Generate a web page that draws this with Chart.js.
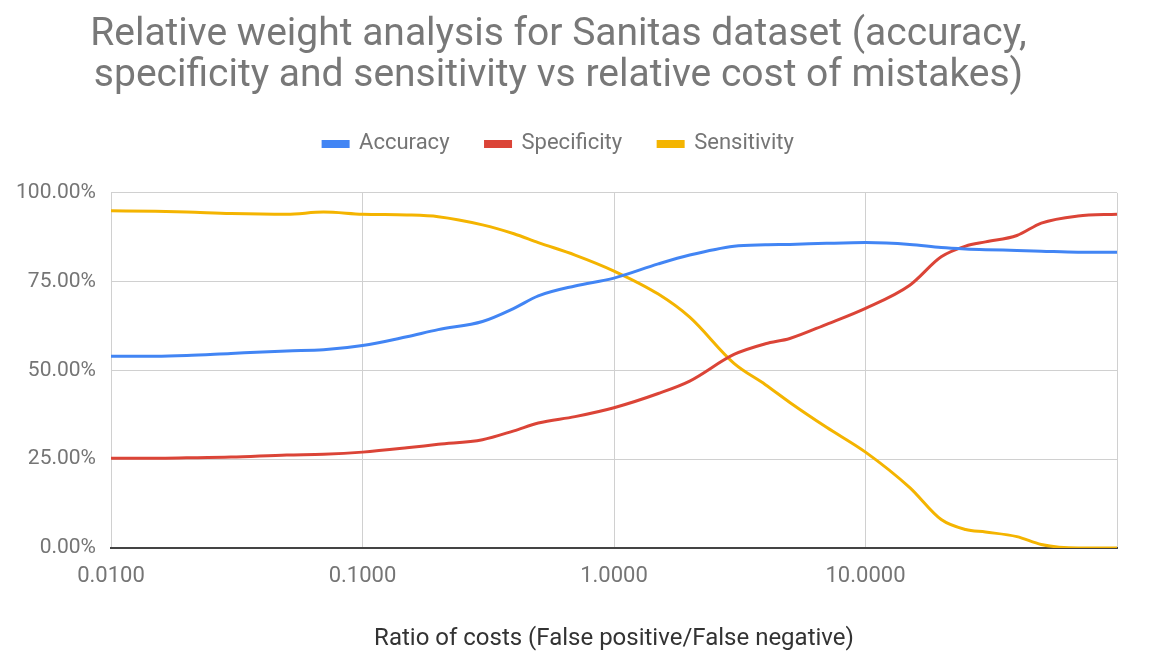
<!DOCTYPE html>
<html>
<head>
<meta charset="utf-8">
<script src="https://cdn.jsdelivr.net/npm/chart.js@4.4.1/dist/chart.umd.min.js"></script>
<style>
  html, body { margin: 0; padding: 0; background: #fff; }
  #wrap { width: 1151px; height: 653px; }
</style>
</head>
<body>
<div id="wrap"><canvas id="costChart" width="1151" height="653"></canvas></div>
<script>
// cost ratio (FP/FN), log axis
const costRatios = [0.01, 0.015, 0.02, 0.03, 0.05, 0.07, 0.1, 0.15, 0.2, 0.3, 0.4, 0.5, 0.7,
  1, 1.5, 2, 3, 4, 5, 7, 10, 15, 20, 25, 30, 40, 50, 70, 100];

// values in percent
const accuracy = [54, 54, 54.2, 54.8, 55.5, 55.8, 57, 59.5, 61.5, 63.8, 67.5, 71, 73.8,
  76, 80, 82.5, 85, 85.4, 85.5, 85.8, 86, 85.5, 84.6, 84.2, 84, 83.8, 83.6, 83.3, 83.3];
const specificity = [25.3, 25.3, 25.4, 25.6, 26.2, 26.4, 27, 28.2, 29.2, 30.5, 33, 35.2, 37,
  39.5, 43.5, 47, 54.5, 57.5, 59, 63, 67.5, 74, 82, 85, 86.2, 88, 91.5, 93.5, 94];
const sensitivity = [95, 94.8, 94.6, 94.2, 94, 94.6, 94, 93.8, 93.3, 91, 88.5, 86, 82.5,
  78, 71.5, 65, 52, 46, 41, 34, 27, 17, 8, 5.2, 4.5, 3.2, 1, 0, 0];

const xTicks = [0.01, 0.1, 1, 10, 100];
const yTicks = [0, 25, 50, 75, 100];

const toPoints = arr => arr.map((v, i) => ({ x: costRatios[i], y: v }));

document.addEventListener("DOMContentLoaded", function() {
    const ctx = document.getElementById('costChart').getContext('2d');

    // extra room under the legend
    const legendGap = {
        id: 'legendGap',
        beforeInit(chart) {
            const fit = chart.legend.fit;
            chart.legend.fit = function() {
                fit.call(this);
                this.height += 28;
            };
        }
    };

    const series = (label, data, color) => ({
        label: label,
        data: toPoints(data),
        borderColor: color,
        backgroundColor: color,
        borderWidth: 3,
        pointRadius: 0,
        cubicInterpolationMode: 'monotone',
        fill: false
    });

    new Chart(ctx, {
        type: 'line',
        data: {
            datasets: [
                series('Accuracy', accuracy, '#4285f4'),
                series('Specificity', specificity, '#db4437'),
                series('Sensitivity', sensitivity, '#f4b400')
            ]
        },
        options: {
            responsive: false,
            animation: false,
            layout: { padding: { top: 0, right: 34, left: 0, bottom: 0 } },
            scales: {
                x: {
                    type: 'logarithmic',
                    min: 0.01,
                    max: 100,
                    afterBuildTicks: s => { s.ticks = xTicks.map(v => ({ value: v })); },
                    afterFit: s => { s.height = 105; },
                    grid: { color: '#d0d0d0', drawTicks: false },
                    border: { color: '#444', width: 2 },
                    ticks: {
                        color: '#757575',
                        font: { family: 'Roboto', size: 22 },
                        padding: 15,
                        maxRotation: 0,
                        callback: v => v >= 100 ? '' : Number(v).toFixed(4)
                    },
                    title: {
                        display: true,
                        text: 'Ratio of costs (False positive/False negative)',
                        color: '#333',
                        font: { family: 'Roboto', size: 24 },
                        padding: { top: 0, bottom: 0 }
                    }
                },
                y: {
                    min: 0,
                    max: 100,
                    afterBuildTicks: s => { s.ticks = yTicks.map(v => ({ value: v })); },
                    afterFit: s => { s.width = 111; },
                    grid: {
                        color: c => c.tick && c.tick.value === 0 ? 'rgba(0,0,0,0)' : '#d0d0d0',
                        drawTicks: false
                    },
                    border: { display: false },
                    ticks: {
                        color: '#757575',
                        font: { family: 'Roboto', size: 21 },
                        padding: 15,
                        callback: v => v.toFixed(2) + '%'
                    }
                }
            },
            plugins: {
                title: {
                    display: true,
                    text: ['Relative weight analysis for Sanitas dataset (accuracy,',
                           'specificity and sensitivity vs relative cost of mistakes)'],
                    color: '#787878',
                    font: { family: 'Roboto', size: 39, weight: 'normal', lineHeight: 1.05 },
                    padding: { top: 15, bottom: 0 }
                },
                legend: {
                    labels: {
                        color: '#757575',
                        font: { family: 'Roboto', size: 22 },
                        boxWidth: 25,
                        boxHeight: 5,
                        padding: 36
                    }
                },
                tooltip: { enabled: false }
            }
        },
        plugins: [legendGap]
    });
});
</script>
</body>
</html>
